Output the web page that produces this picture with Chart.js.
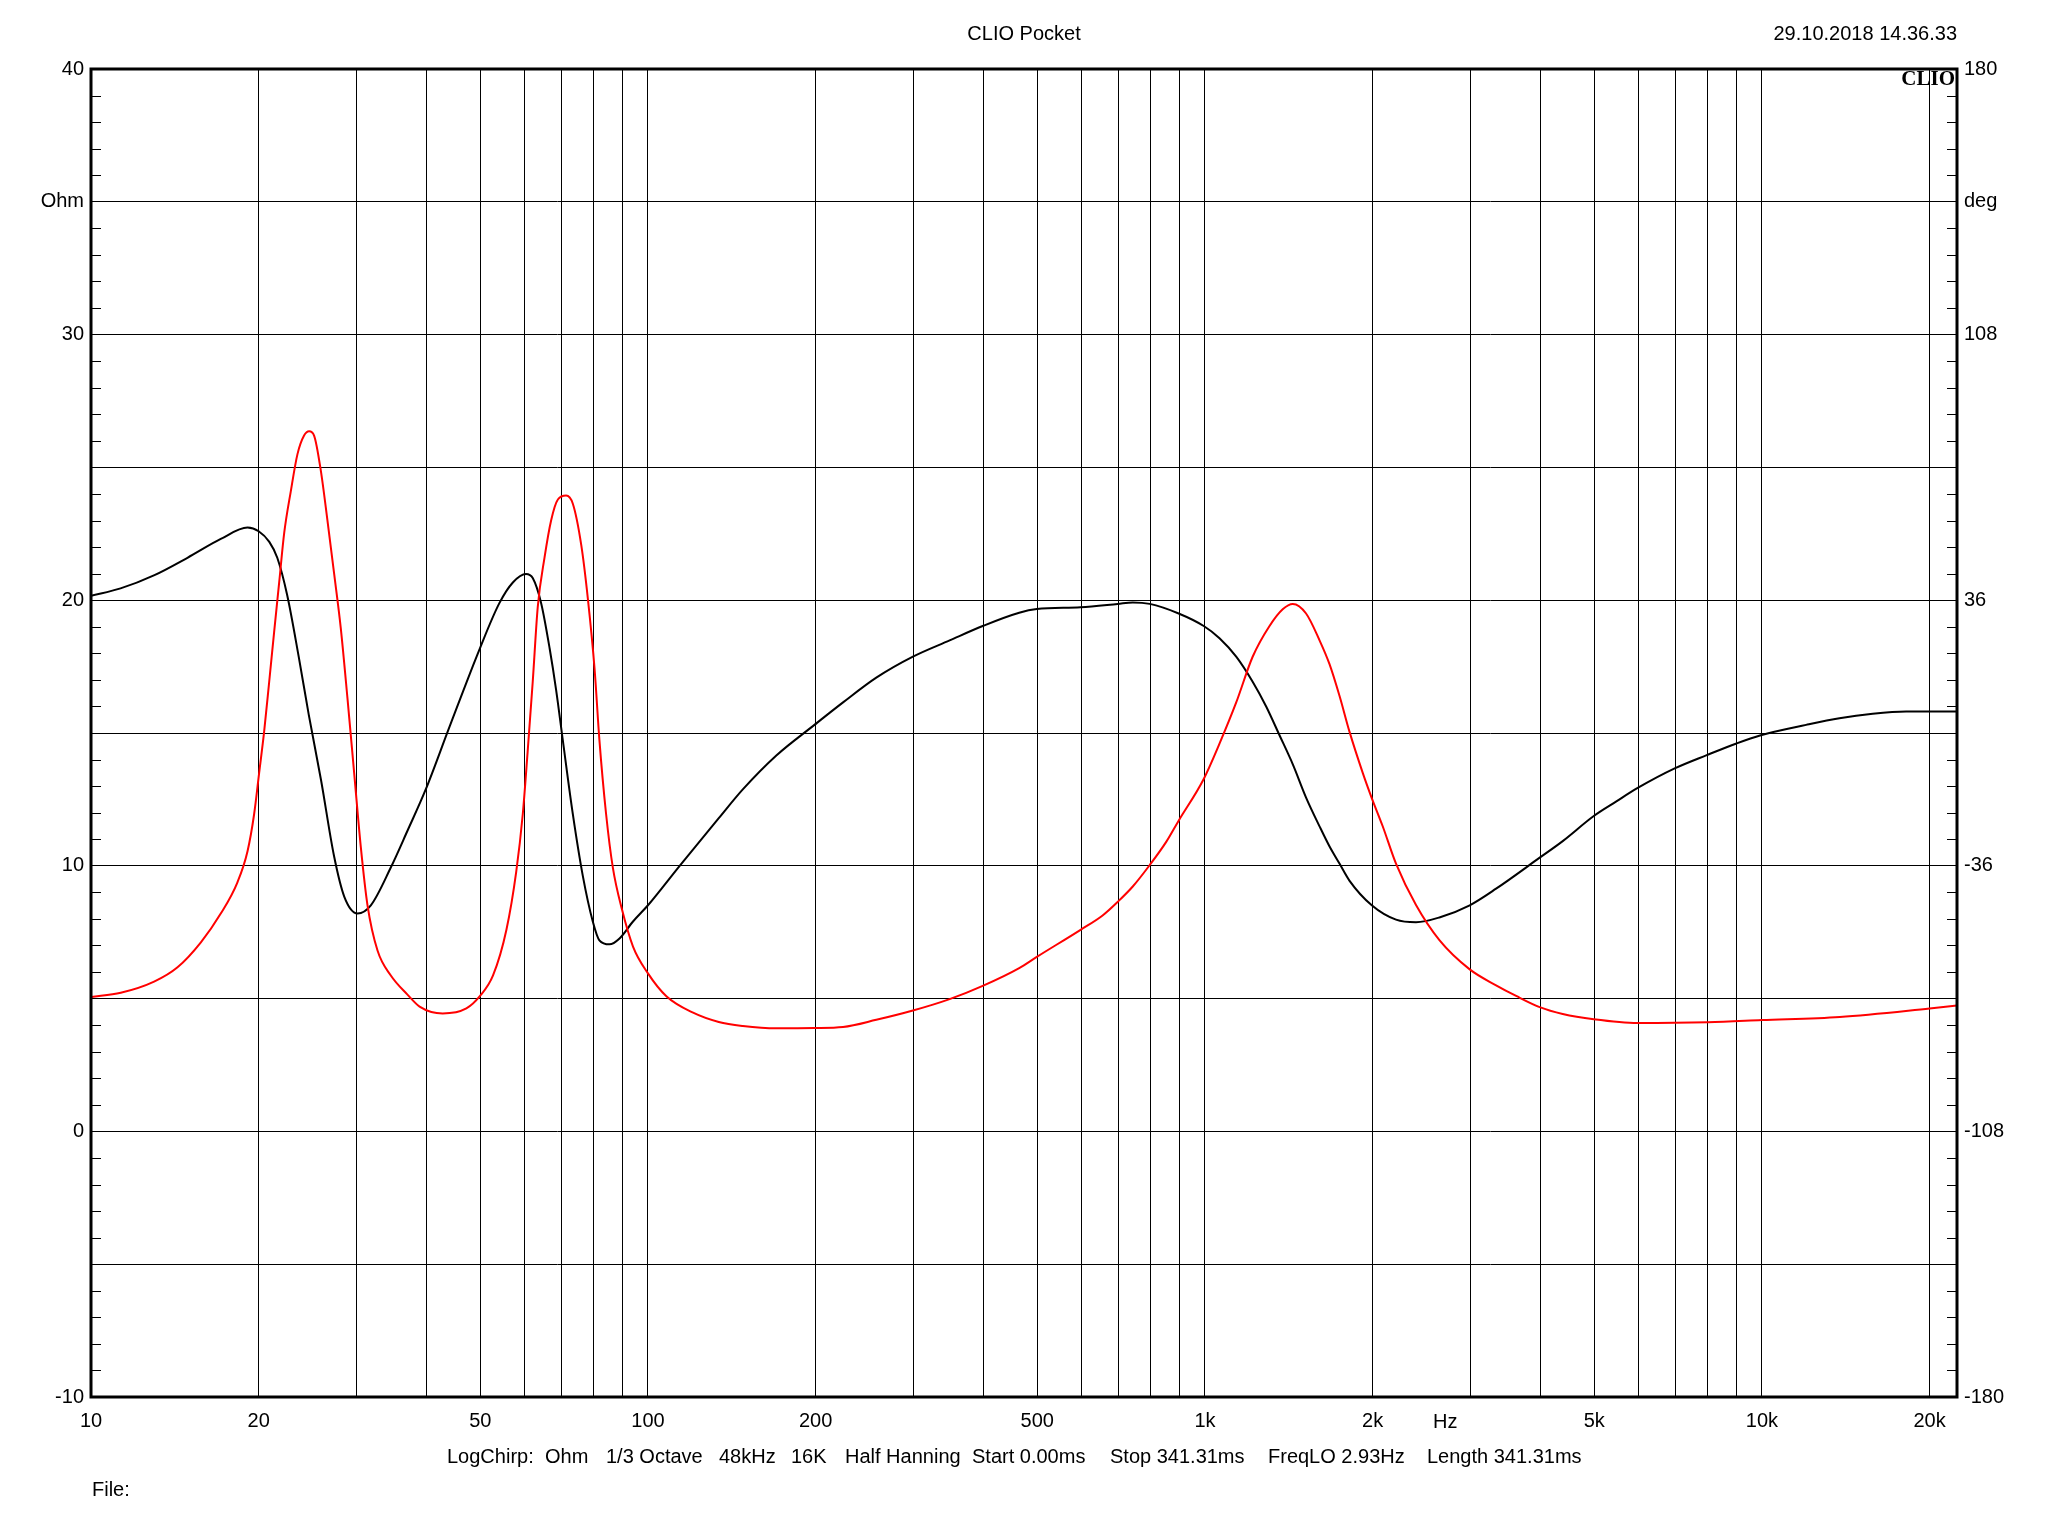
<!DOCTYPE html>
<html>
<head>
<meta charset="utf-8">
<script src="https://cdn.jsdelivr.net/npm/chart.js@4.4.1/dist/chart.umd.min.js"></script>
<style>
  html, body { margin: 0; padding: 0; background: #fff; }
  #wrap { width: 2048px; height: 1536px; }
</style>
</head>
<body>
<div id="wrap"><canvas id="clio" width="2048" height="1536"></canvas></div>
<script>
// impedance magnitude (red, left axis, Ohm)
const impFreqHz = [10, 11.31, 12.98, 14.3, 15.75, 17.11, 18.32, 19.1, 19.63, 20.04, 20.46, 20.89, 21.32, 21.77, 22.23, 22.84, 23.48, 24.13, 24.64, 25.15,
  25.86, 26.58, 27.33, 28.08, 28.87, 29.68, 30.51, 31.36, 32.69, 34.54, 37.0, 38.9, 42.8, 47.2, 49.9, 52.7, 55.7, 58.0, 59.6, 60.8,
  62.1, 63.4, 65.2, 67.0, 68.9, 71.3, 73.3, 75.9, 78.0, 80.2, 81.8, 84.1, 86.5, 89.8, 94.0, 100, 107.9, 120.5, 134, 148,
  170, 199, 224, 257, 299, 348, 399, 464, 499, 598, 655, 697, 742, 796, 852, 897, 995, 1062, 1138, 1218,
  1306, 1379, 1438, 1519, 1606, 1673, 1744, 1817, 1920, 1993, 2086, 2203, 2393, 2636, 2988, 3332, 3620, 3990, 4389, 4990,
  5984, 8000, 10000, 13800, 20000, 22400]
const impOhm = [5.06, 5.22, 5.64, 6.18, 7.12, 8.21, 9.38, 10.55, 11.95, 13.5, 15.06, 16.93, 18.8, 20.67, 22.54, 24.1, 25.5, 26.2, 26.36, 26.2,
  24.88, 23.0, 20.98, 18.96, 16.31, 13.5, 10.7, 8.52, 6.81, 5.87, 5.15, 4.70, 4.44, 4.63, 5.09, 5.87, 7.59, 9.77, 11.95, 14.28,
  16.93, 19.74, 21.6, 23.0, 23.79, 23.94, 23.63, 22.07, 20.05, 17.4, 14.75, 11.95, 9.92, 8.36, 6.96, 5.95, 5.09, 4.47, 4.12, 3.97,
  3.88, 3.89, 3.93, 4.2, 4.55, 4.98, 5.48, 6.15, 6.57, 7.59, 8.13, 8.64, 9.22, 10.03, 10.9, 11.7, 13.27, 14.6, 16.15, 17.87,
  19.03, 19.66, 19.86, 19.5, 18.49, 17.6, 16.4, 15.06, 13.5, 12.55, 11.48, 10.08, 8.52, 7.2, 6.1, 5.5, 5.1, 4.68, 4.42, 4.22,
  4.08, 4.11, 4.19, 4.31, 4.63, 4.74]

// impedance phase (black, right axis, deg)
const phaseFreqHz = [10, 11.3, 13.0, 14.9, 17.1, 19.1, 20.0, 20.9, 21.6, 22.5, 23.6, 24.6, 25.9, 27.3, 28.5, 30.1, 31.8, 34.5, 37.0, 39.9,
  44.0, 49.9, 54.1, 57.2, 60.4, 62.1, 64.3, 66.6, 68.4, 70.3, 73.3, 76.4, 79.6, 81.8, 85.3, 88.9, 94.0, 100, 114, 134,
  148, 170, 199, 224, 257, 299, 348, 399, 464, 499, 598, 697, 742, 796, 897, 995, 1062, 1138, 1218, 1288,
  1361, 1438, 1519, 1606, 1673, 1744, 1817, 1993, 2203, 2393, 2636, 2988, 3332, 3990, 4389, 4990, 5470, 5984, 6972, 7960,
  8975, 9953, 12005, 13777, 15810, 18150, 20000, 22400]
const phaseDeg = [37.2, 39.2, 42.8, 47.5, 52.6, 55.7, 54.7, 51.8, 47.5, 37.4, 20.7, 5.0, -13.0, -33.2, -44.4, -48.9, -46.7, -36.6, -26.5, -15.3,
  1.6, 22.9, 35.2, 40.8, 43.1, 42.0, 35.2, 22.9, 11.7, -1.8, -22.0, -38.8, -51.1, -56.2, -57.3, -55.7, -51.1, -46.7, -36.0, -23.1,
  -15.3, -6.1, 2.2, 8.3, 15.0, 20.7, 25.1, 29.0, 32.6, 33.6, 34.1, 35.0, 35.4, 35.0, 32.4, 29.0, 25.7, 20.7, 13.9, 7.2,
  -0.6, -8.5, -17.5, -25.3, -30.7, -35.4, -40.0, -46.7, -50.6, -51.3, -50.0, -46.7, -42.2, -33.8, -29.3, -22.5, -18.6, -14.9, -9.6, -6.0,
  -2.9, -0.6, 2.2, 4.0, 5.2, 5.8, 5.8, 5.8]

// axes
const xGridHz = [10, 20, 30, 40, 50, 60, 70, 80, 90, 100, 200, 300, 400, 500, 600, 700, 800, 900,
  1000, 2000, 3000, 4000, 5000, 6000, 7000, 8000, 9000, 10000, 20000]
const xLabelHz = [10, 20, 50, 100, 200, 500, 1000, 2000, 5000, 10000, 20000]
const xLabelText = ['10', '20', '50', '100', '200', '500', '1k', '2k', '5k', '10k', '20k']
const ohmTickValues = [40, 35, 30, 20, 10, 0, -10]
const ohmTickText = ['40', 'Ohm', '30', '20', '10', '0', '-10']
const degTickValues = [180, 144, 108, 36, -36, -108, -180]
const degTickText = ['180', 'deg', '108', '36', '-36', '-108', '-180']

const footerParts = ['LogChirp:', 'Ohm', '1/3 Octave', '48kHz', '16K', 'Half Hanning',
  'Start 0.00ms', 'Stop 341.31ms', 'FreqLO 2.93Hz', 'Length 341.31ms']
const footerX = [447, 545, 606, 719, 791, 845, 972, 1110, 1268, 1427]

const SANS = '"Liberation Sans", Arial, sans-serif'
Chart.defaults.font.family = SANS
Chart.defaults.font.size = 20
Chart.defaults.color = '#000'

const toXY = (xs, ys) => xs.map((x, i) => ({ x: x, y: ys[i] }))

const decorations = {
  id: 'decorations',
  afterDraw (chart) {
    const { ctx, chartArea: a, scales } = chart
    ctx.save()
    ctx.strokeStyle = '#000'
    ctx.lineWidth = 1
    ctx.beginPath()
    for (let v = -10; v <= 40; v++) {
      if (v % 5 === 0) continue
      const y = Math.round(scales.y.getPixelForValue(v)) + 0.5
      ctx.moveTo(a.left, y); ctx.lineTo(a.left + 10, y)
      ctx.moveTo(a.right - 10, y); ctx.lineTo(a.right, y)
    }
    ctx.stroke()

    ctx.lineWidth = 3
    ctx.strokeRect(a.left, a.top, a.right - a.left, a.bottom - a.top)

    ctx.fillStyle = '#000'
    ctx.font = '20px ' + SANS
    ctx.textBaseline = 'middle'
    ctx.textAlign = 'center'
    ctx.fillText('CLIO Pocket', 1024, 34)
    ctx.textAlign = 'right'
    ctx.fillText('29.10.2018 14.36.33', a.right, 34)
    ctx.textAlign = 'center'
    ctx.fillText('Hz', scales.x.getPixelForValue(2700), 1422)
    ctx.textAlign = 'left'
    footerParts.forEach((t, i) => ctx.fillText(t, footerX[i], 1457))
    ctx.fillText('File:', 92, 1490)

    ctx.font = 'bold 21px "Liberation Serif", "Times New Roman", serif'
    ctx.textAlign = 'right'
    ctx.fillText('CLIO', a.right - 2, 80)
    ctx.restore()
  }
}

new Chart(document.getElementById('clio'), {
  type: 'line',
  data: {
    datasets: [
      {
        label: 'Ohm',
        data: toXY(impFreqHz, impOhm),
        yAxisID: 'y',
        borderColor: '#ff0000',
        borderWidth: 2,
        cubicInterpolationMode: 'monotone',
        pointRadius: 0,
        order: 1
      },
      {
        label: 'deg',
        data: toXY(phaseFreqHz, phaseDeg),
        yAxisID: 'y2',
        borderColor: '#000000',
        borderWidth: 2,
        cubicInterpolationMode: 'monotone',
        pointRadius: 0,
        order: 2
      }
    ]
  },
  options: {
    responsive: false,
    devicePixelRatio: 1,
    animation: false,
    layout: { padding: { top: 69, bottom: 99, left: 0, right: 0 } },
    plugins: { legend: { display: false }, tooltip: { enabled: false } },
    scales: {
      x: {
        type: 'logarithmic',
        min: 10,
        max: 22400,
        afterBuildTicks: (s) => { s.ticks = xGridHz.map((v) => ({ value: v })) },
        afterFit: (s) => { s.height = 40 },
        ticks: {
          autoSkip: false,
          maxRotation: 0,
          padding: 12,
          callback: (v) => {
            const i = xLabelHz.indexOf(v)
            return i < 0 ? '' : xLabelText[i]
          }
        },
        grid: { color: '#000', lineWidth: 1, drawTicks: false },
        border: { display: false }
      },
      y: {
        position: 'left',
        min: -10,
        max: 40,
        afterFit: (s) => { s.width = 91 },
        ticks: {
          stepSize: 5,
          padding: 7,
          callback: (v) => {
            const i = ohmTickValues.indexOf(v)
            return i < 0 ? '' : ohmTickText[i]
          }
        },
        grid: { color: '#000', lineWidth: 1, drawTicks: false },
        border: { display: false }
      },
      y2: {
        position: 'right',
        min: -180,
        max: 180,
        afterFit: (s) => { s.width = 91 },
        ticks: {
          stepSize: 36,
          padding: 7,
          callback: (v) => {
            const i = degTickValues.indexOf(v)
            return i < 0 ? '' : degTickText[i]
          }
        },
        grid: { display: false, drawTicks: false },
        border: { display: false }
      }
    }
  },
  plugins: [decorations]
})
</script>
</body>
</html>
